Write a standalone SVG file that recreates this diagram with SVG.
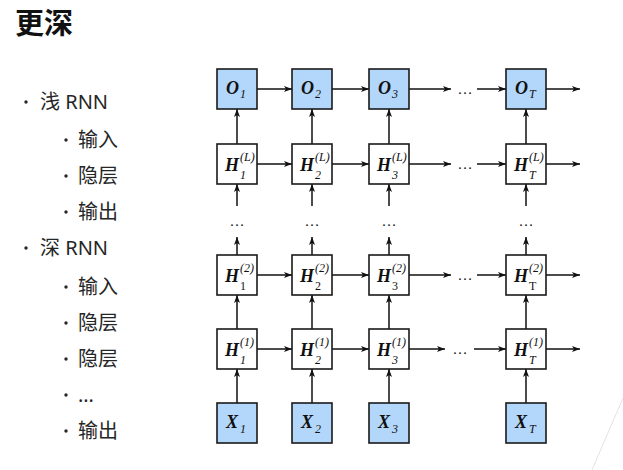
<svg xmlns="http://www.w3.org/2000/svg" width="623" height="470" viewBox="0 0 623 470">
<style>
.title{font-family:"Noto Sans CJK SC","Noto Sans",sans-serif;font-size:29px;font-weight:bold;fill:#111}
.t{font-family:"Noto Sans","Noto Sans CJK SC",sans-serif;font-size:20px;fill:#262626}
.bul{fill:#262626}
.box{fill:#fff;stroke:#1a1a1a;stroke-width:1.6}
.blue{fill:#b3d7fb}
.m{font-family:"Liberation Serif","Times New Roman",serif;font-size:18px;font-weight:bold;font-style:italic;fill:#111}
.s{font-family:"Liberation Serif","Times New Roman",serif;font-size:12px;font-style:italic;fill:#111}
.u{font-family:"Liberation Serif","Times New Roman",serif;font-size:12px;fill:#111}
.d{font-family:"Liberation Serif","Times New Roman",serif;font-size:15px;fill:#111;text-anchor:middle}
.c line{stroke:#111;stroke-width:1.5;marker-end:url(#ah)}
</style>
<defs>
<marker id="ah" viewBox="0 0 8 6" refX="8" refY="3" markerWidth="8" markerHeight="6" markerUnits="userSpaceOnUse" orient="auto">
<path d="M0,0 L8,3 L0,6 L2,3 z" fill="#111"/>
</marker>
</defs>
<rect width="623" height="470" fill="#fff"/>
<line x1="623" y1="398" x2="592" y2="470" stroke="#e2e2e2" stroke-width="1"/>
<text class="title" x="15" y="34">更深</text>
<g id="list">
<circle class="bul" cx="26" cy="102" r="1.7"/><text class="t" x="40" y="109">浅 RNN</text>
<circle class="bul" cx="66" cy="140" r="1.7"/><text class="t" x="78" y="147">输入</text>
<circle class="bul" cx="66" cy="176" r="1.7"/><text class="t" x="78" y="183">隐层</text>
<circle class="bul" cx="66" cy="212" r="1.7"/><text class="t" x="78" y="219">输出</text>
<circle class="bul" cx="26" cy="248" r="1.7"/><text class="t" x="40" y="255">深 RNN</text>
<circle class="bul" cx="66" cy="287" r="1.7"/><text class="t" x="78" y="294">输入</text>
<circle class="bul" cx="66" cy="323" r="1.7"/><text class="t" x="78" y="330">隐层</text>
<circle class="bul" cx="66" cy="359" r="1.7"/><text class="t" x="78" y="366">隐层</text>
<circle class="bul" cx="66" cy="395" r="1.7"/><text class="t" x="78" y="402">…</text>
<circle class="bul" cx="66" cy="431" r="1.7"/><text class="t" x="78" y="438">输出</text>
</g>
<g class="c" id="connectors">
<line x1="257" y1="89" x2="292" y2="89"/><line x1="332" y1="89" x2="369" y2="89"/><line x1="409" y1="89" x2="451" y2="89"/><line x1="477" y1="89" x2="506" y2="89"/><line x1="546" y1="89" x2="580" y2="89"/>
<line x1="257" y1="164" x2="292" y2="164"/><line x1="332" y1="164" x2="369" y2="164"/><line x1="409" y1="164" x2="451" y2="164"/><line x1="477" y1="164" x2="506" y2="164"/><line x1="546" y1="164" x2="580" y2="164"/>
<line x1="257" y1="275" x2="292" y2="275"/><line x1="332" y1="275" x2="369" y2="275"/><line x1="409" y1="275" x2="451" y2="275"/><line x1="477" y1="275" x2="506" y2="275"/><line x1="546" y1="275" x2="580" y2="275"/>
<line x1="257" y1="349" x2="292" y2="349"/><line x1="332" y1="349" x2="369" y2="349"/><line x1="409" y1="349" x2="445" y2="349"/><line x1="474" y1="349" x2="506" y2="349"/><line x1="546" y1="349" x2="580" y2="349"/>
<line x1="237" y1="403" x2="237" y2="369"/><line x1="312" y1="403" x2="312" y2="369"/><line x1="389" y1="403" x2="389" y2="369"/><line x1="526" y1="403" x2="526" y2="369"/>
<line x1="237" y1="329" x2="237" y2="295"/><line x1="312" y1="329" x2="312" y2="295"/><line x1="389" y1="329" x2="389" y2="295"/><line x1="526" y1="329" x2="526" y2="295"/>
<line x1="237" y1="255" x2="237" y2="237"/><line x1="312" y1="255" x2="312" y2="237"/><line x1="389" y1="255" x2="389" y2="237"/><line x1="526" y1="255" x2="526" y2="237"/>
<line x1="237" y1="206" x2="237" y2="184"/><line x1="312" y1="206" x2="312" y2="184"/><line x1="389" y1="206" x2="389" y2="184"/><line x1="526" y1="206" x2="526" y2="184"/>
<line x1="237" y1="144" x2="237" y2="109"/><line x1="312" y1="144" x2="312" y2="109"/><line x1="389" y1="144" x2="389" y2="109"/><line x1="526" y1="144" x2="526" y2="109"/>
</g>
<g id="dots">
<text class="d" x="465" y="94">…</text><text class="d" x="465" y="169">…</text><text class="d" x="465" y="280">…</text><text class="d" x="460" y="354">…</text>
<text class="d" x="237" y="226">…</text><text class="d" x="312" y="226">…</text><text class="d" x="389" y="226">…</text><text class="d" x="526" y="226">…</text>
</g>
<g id="O1"><rect class="box blue" x="217" y="69" width="40" height="40"/><text class="m" x="226" y="94">O</text><text class="s" x="240" y="98">1</text></g>
<g id="O2"><rect class="box blue" x="292" y="69" width="40" height="40"/><text class="m" x="301" y="94">O</text><text class="s" x="315" y="98">2</text></g>
<g id="O3"><rect class="box blue" x="369" y="69" width="40" height="40"/><text class="m" x="378" y="94">O</text><text class="s" x="392" y="98">3</text></g>
<g id="OT"><rect class="box blue" x="506" y="69" width="40" height="40"/><text class="m" x="515" y="94">O</text><text class="s" x="529" y="98">T</text></g>
<g id="HL1"><rect class="box" x="217" y="144" width="40" height="40"/><text class="m" x="225" y="171">H</text><text class="s" x="240" y="161">(L)</text><text class="s" x="240" y="179">1</text></g>
<g id="HL2"><rect class="box" x="292" y="144" width="40" height="40"/><text class="m" x="300" y="171">H</text><text class="s" x="315" y="161">(L)</text><text class="s" x="315" y="179">2</text></g>
<g id="HL3"><rect class="box" x="369" y="144" width="40" height="40"/><text class="m" x="377" y="171">H</text><text class="s" x="392" y="161">(L)</text><text class="s" x="392" y="179">3</text></g>
<g id="HLT"><rect class="box" x="506" y="144" width="40" height="40"/><text class="m" x="514" y="171">H</text><text class="s" x="529" y="161">(L)</text><text class="s" x="529" y="179">T</text></g>
<g id="H21"><rect class="box" x="217" y="255" width="40" height="40"/><text class="m" x="225" y="282">H</text><text class="s" x="240" y="272">(2)</text><text class="u" x="240" y="290">1</text></g>
<g id="H22"><rect class="box" x="292" y="255" width="40" height="40"/><text class="m" x="300" y="282">H</text><text class="s" x="315" y="272">(2)</text><text class="u" x="315" y="290">2</text></g>
<g id="H23"><rect class="box" x="369" y="255" width="40" height="40"/><text class="m" x="377" y="282">H</text><text class="s" x="392" y="272">(2)</text><text class="u" x="392" y="290">3</text></g>
<g id="H2T"><rect class="box" x="506" y="255" width="40" height="40"/><text class="m" x="514" y="282">H</text><text class="s" x="529" y="272">(2)</text><text class="u" x="529" y="290">T</text></g>
<g id="H11"><rect class="box" x="217" y="329" width="40" height="40"/><text class="m" x="225" y="356">H</text><text class="s" x="240" y="346">(1)</text><text class="s" x="240" y="364">1</text></g>
<g id="H12"><rect class="box" x="292" y="329" width="40" height="40"/><text class="m" x="300" y="356">H</text><text class="s" x="315" y="346">(1)</text><text class="s" x="315" y="364">2</text></g>
<g id="H13"><rect class="box" x="369" y="329" width="40" height="40"/><text class="m" x="377" y="356">H</text><text class="s" x="392" y="346">(1)</text><text class="s" x="392" y="364">3</text></g>
<g id="H1T"><rect class="box" x="506" y="329" width="40" height="40"/><text class="m" x="514" y="356">H</text><text class="s" x="529" y="346">(1)</text><text class="s" x="529" y="364">T</text></g>
<g id="X1"><rect class="box blue" x="217" y="403" width="40" height="40"/><text class="m" x="226" y="428">X</text><text class="s" x="240" y="433">1</text></g>
<g id="X2"><rect class="box blue" x="292" y="403" width="40" height="40"/><text class="m" x="301" y="428">X</text><text class="s" x="315" y="433">2</text></g>
<g id="X3"><rect class="box blue" x="369" y="403" width="40" height="40"/><text class="m" x="378" y="428">X</text><text class="s" x="392" y="433">3</text></g>
<g id="XT"><rect class="box blue" x="506" y="403" width="40" height="40"/><text class="m" x="515" y="428">X</text><text class="s" x="529" y="433">T</text></g>
</svg>
